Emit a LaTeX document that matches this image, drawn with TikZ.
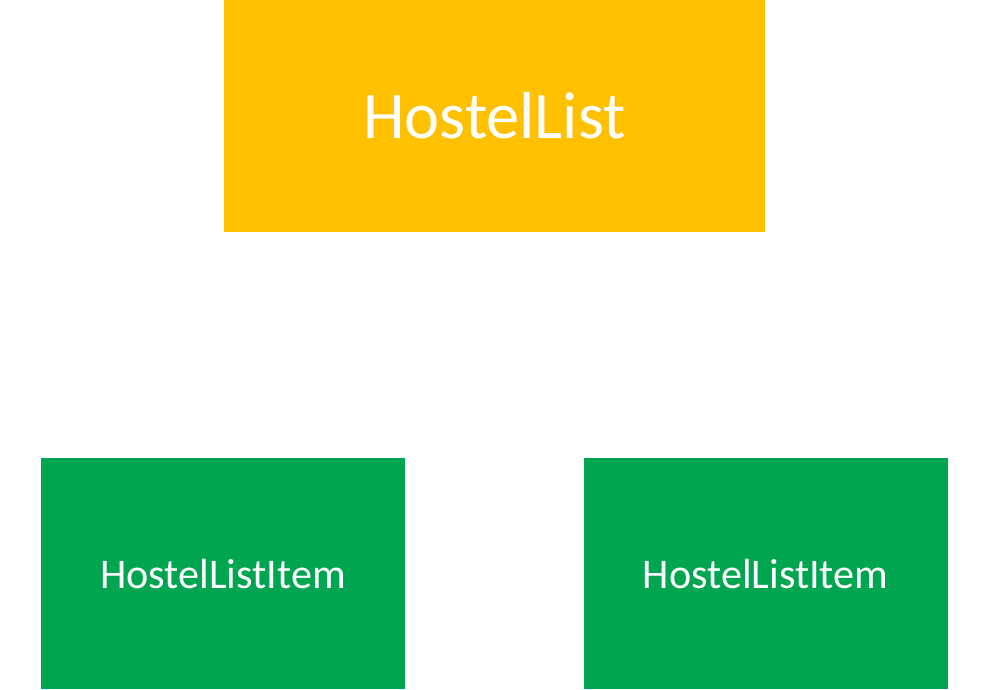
\documentclass[tikz,border=0pt]{standalone}
\usepackage{fontspec}
\setmainfont{Carlito}
\usepackage{tikz}
\usetikzlibrary{positioning}
\definecolor{listyellow}{HTML}{FFC000}
\definecolor{itemgreen}{HTML}{00A54F}
\tikzstyle{block} = [rectangle, inner sep=0pt, text centered, text=white, draw=none]
\tikzstyle{listbox} = [block, fill=listyellow, minimum width=541pt, minimum height=232pt, font=\fontsize{66.5}{70}\selectfont]
\tikzstyle{itembox} = [block, fill=itemgreen, minimum width=364pt, minimum height=231pt, font=\fontsize{42.2}{46}\selectfont]

\begin{document}
\begin{tikzpicture}[x=1pt, y=-1pt]
\useasboundingbox (0,0) rectangle (988,689);
% Nodi principali
\node (hostellist) [listbox] at (494.5,116) {HostelList};
\node (item1) [itembox] at (223,573.5) {HostelListItem};
\node (item2) [itembox] at (765.5,573.5) {HostelListItem};
\end{tikzpicture}
\end{document}
